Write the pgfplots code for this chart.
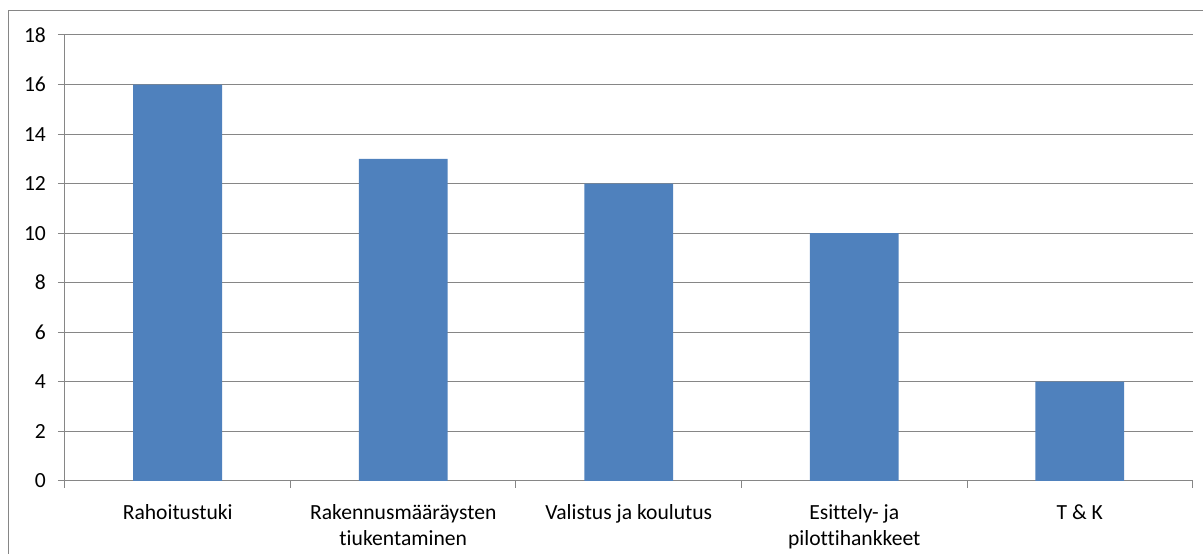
\documentclass[border=0pt]{standalone}
\usepackage{pgfplots}
\pgfplotsset{compat=1.18}
\usepackage{fontspec}
\setmainfont{Carlito}[Ligatures=NoCommon]
\definecolor{barblue}{HTML}{4F81BD}
\definecolor{axisgray}{HTML}{868686}
\begin{document}
\begin{tikzpicture}
\path (-32.5pt,-36.5pt) rectangle (569pt,240.5pt);
\draw[axisgray, line width=0.5pt] (-28pt,-36.5pt) -- (-28pt,235pt) -- (569pt,235pt);
\begin{axis}[
  at={(0,0)}, anchor=south west,
  scale only axis, width=564pt, height=223pt,
  xmin=-0.5, xmax=4.5, ymin=0, ymax=18,
  ytick={0,2,...,18},
  ymajorgrids, grid style={axisgray, line width=0.5pt},
  axis x line=bottom, axis y line=left,
  axis line style={-, axisgray, line width=0.5pt},
  tick align=outside, major tick length=3.5pt,
  tick style={axisgray, line width=0.5pt},
  xtick={-0.5,0.5,...,4.5}, xticklabels={},
  extra x ticks={0,1,2,3,4},
  extra x tick labels={Rahoitustuki, Rakennusmääräysten\\tiukentaminen, Valistus ja koulutus, Esittely- ja\\pilottihankkeet, T \& K},
  extra x tick style={tick style={draw=none}, grid=none},
  xticklabel style={align=center, font=\fontsize{10.8}{13}\selectfont, yshift=-5pt},
  yticklabel style={font=\fontsize{10.8}{13}\selectfont, xshift=-2.5pt},
  /pgf/number format/assume math mode=true,
  ybar, bar width=44.5pt,
]
\addplot[fill=barblue, draw=none] coordinates {(0,16) (1,13) (2,12) (3,10) (4,4)};
\end{axis}
\end{tikzpicture}
\end{document}
